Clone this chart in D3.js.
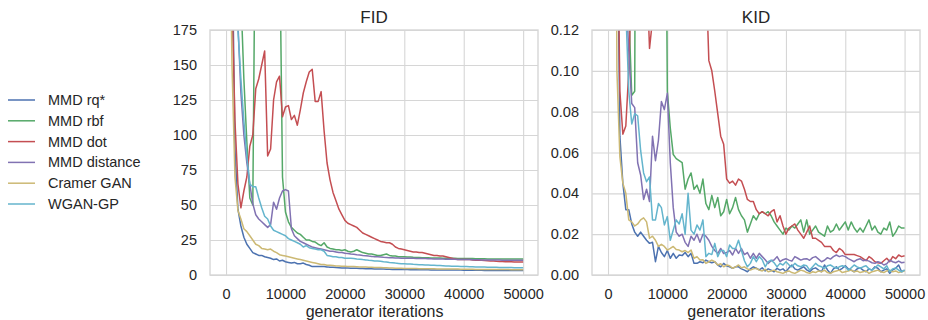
<!DOCTYPE html>
<html>
<head>
<meta charset="utf-8">
<script src="https://cdn.jsdelivr.net/npm/d3@7"></script>
<style>
  body { margin: 0; background: #fff; }
  text { font-family: "Liberation Sans", Arial, sans-serif; fill: #262626; }
</style>
</head>
<body>
<div id="chart"></div>
<script>
// series names + seaborn "deep" colours
const seriesNames = ["MMD rq*", "MMD rbf", "MMD dot", "MMD distance", "Cramer GAN", "WGAN-GP"];
const seriesColors = ["#4C72B0", "#55A868", "#C44E52", "#8172B2", "#CCB974", "#64B5CD"];

// evaluation points, every 500 generator iterations
const iterations = d3.range(500, 50001, 500);

const xTicks = [0, 10000, 20000, 30000, 40000, 50000];
const fidTicks = [0, 25, 50, 75, 100, 125, 150, 175];
const kidTicks = [0, 0.02, 0.04, 0.06, 0.08, 0.10, 0.12];

// FID values
const fidRq = [
  400, 250, 90, 47, 35, 27, 22, 19, 16, 15,
  14, 14, 13, 12.5, 12, 11, 11.5, 10, 10.5, 9.5,
  9, 8.5, 9, 8, 8, 8.5, 7.5, 7, 6, 6,
  6, 6, 6, 5.8, 5.5, 5.5, 5.3, 5.2, 5, 5,
  5, 4.9, 4.8, 4.8, 4.7, 4.6, 4.5, 4.5, 4.4, 4.3,
  4.3, 4.2, 4.2, 4.1, 4.1, 4, 4, 4, 3.9, 3.9,
  3.9, 3.8, 3.8, 3.8, 3.7, 3.7, 3.7, 3.7, 3.6, 3.6,
  3.6, 3.6, 3.6, 3.5, 3.5, 3.5, 3.5, 3.5, 3.5, 3.4,
  3.4, 3.4, 3.4, 3.4, 3.4, 3.4, 3.3, 3.3, 3.3, 3.3,
  3.3, 3.3, 3.3, 3.3, 3.2, 3.2, 3.2, 3.2, 3.2, 3.2
];
const fidRbf = [
  600, 500, 400, 300, 200, 140, 95, 55, 50, 300,
  400, 400, 400, 400, 400, 400, 400, 250, 70, 45,
  38, 34, 32, 30, 29, 27, 25, 25, 24, 23.5,
  22, 21, 23, 20, 19, 18.5, 18, 18, 17.5, 18,
  17, 16.5, 17, 18, 17, 16, 15.5, 15, 15, 14.5,
  14, 14, 14.5, 15, 14, 13.5, 13.5, 13, 13, 13,
  12.8, 12.8, 12.6, 12.5, 12.5, 12.4, 12.3, 12.3, 12.2, 12.2,
  12.1, 12.1, 12, 12, 12, 11.9, 11.9, 11.8, 11.8, 11.8,
  11.7, 11.7, 11.7, 11.6, 11.6, 11.6, 11.6, 11.5, 11.5, 11.5,
  11.5, 11.5, 11.5, 11.5, 11.4, 11.4, 11.4, 11.4, 11.4, 11.4
];
const fidDot = [
  400, 200, 110, 65, 48, 60, 70, 92, 100, 133,
  140, 150, 160, 85, 90, 125, 138, 142, 113, 120,
  121, 111, 114, 107, 118, 130, 138, 145, 147, 124,
  124, 131, 103, 80, 68, 59, 53, 47, 43, 39,
  37, 36, 35, 34, 32, 30, 29, 28, 27, 26,
  25, 24, 23.5, 23, 23, 22, 20, 19, 18.5, 18,
  17.5, 17, 16.5, 16.5, 16, 16, 15.5, 15, 14.5, 14,
  14, 13.5, 13.5, 13, 12.5, 12, 11.5, 11, 11, 11,
  11, 11, 10.8, 10.6, 10.5, 10.5, 10.3, 10.2, 10, 10,
  9.8, 9.7, 9.6, 9.5, 9.5, 9.4, 9.3, 9.3, 9.2, 9.2
];
const fidDistance = [
  600, 400, 250, 180, 130, 100, 80, 65, 51, 43,
  40, 38, 36, 34, 36, 52, 47, 55, 60, 61,
  60, 33, 28, 26, 24, 23, 22, 21, 20, 19.5,
  19, 18.5, 18, 17.5, 17, 17, 16.5, 16, 16, 15.5,
  15.3, 15, 14.8, 14.5, 14.3, 14, 13.8, 13.5, 13.3, 13,
  13, 12.8, 12.6, 12.5, 12.4, 12.3, 12.2, 12.1, 12, 12,
  12, 11.9, 11.9, 11.8, 11.8, 11.7, 11.7, 11.6, 11.6, 11.5,
  11.5, 11.4, 11.4, 11.3, 11.3, 11.2, 11.2, 11.1, 11.1, 11,
  11, 11, 10.9, 10.9, 10.9, 10.8, 10.8, 10.8, 10.7, 10.7,
  10.7, 10.7, 10.6, 10.6, 10.6, 10.6, 10.5, 10.5, 10.5, 10.5
];
const fidCramer = [
  300, 150, 70, 46, 40, 33, 31, 28, 25, 22,
  21, 19, 18.5, 18, 18.5, 17, 16, 14.5, 14, 13.5,
  13, 12.5, 12, 11.5, 11, 10.5, 10, 9.5, 9, 8.5,
  8, 7.5, 7.5, 7, 7, 6.8, 6.5, 6.5, 6.3, 6.2,
  6.1, 6, 6, 5.9, 5.8, 5.7, 5.7, 5.6, 5.5, 5.4,
  5.3, 5.3, 5.2, 5.1, 5, 5, 4.9, 4.9, 4.8, 4.7,
  4.7, 4.6, 4.6, 4.6, 4.5, 4.5, 4.5, 4.4, 4.4, 4.4,
  4.3, 4.3, 4.3, 4.3, 4.2, 4.2, 4.2, 4.2, 4.1, 4.1,
  4.1, 4.1, 4.1, 4, 4, 4, 4, 4, 4, 3.9,
  3.9, 3.9, 3.9, 3.9, 3.9, 3.8, 3.8, 3.8, 3.8, 3.8
];
const fidWgan = [
  600, 400, 250, 175, 140, 110, 85, 65, 63, 63,
  55, 48, 42, 40, 35, 32, 31, 30, 29, 28,
  26, 25, 24, 23, 22, 20, 21, 19.5, 19, 18.5,
  18, 18, 17, 14, 13.5, 13, 13, 12.5, 12.5, 12,
  12, 12, 11.8, 11.5, 11.3, 11, 10.8, 10.5, 10.3, 10,
  10, 9.8, 9.5, 9.3, 9, 8.8, 8.5, 8.3, 8.1, 8,
  7.9, 7.8, 7.6, 7.5, 7.4, 7.3, 7.2, 7.1, 7, 6.9,
  6.8, 6.7, 6.6, 6.5, 6.4, 6.3, 6.3, 6.2, 6.1, 6,
  6, 5.9, 5.9, 5.8, 5.8, 5.7, 5.7, 5.6, 5.6, 5.5,
  5.5, 5.4, 5.4, 5.3, 5.3, 5.3, 5.2, 5.2, 5.2, 5.2
];

// KID values
const kidRq = [
  0.8, 0.5, 0.2, 0.068, 0.045, 0.032, 0.032, 0.025, 0.021, 0.019,
  0.021, 0.019, 0.017, 0.0155, 0.016, 0.0065, 0.014, 0.011, 0.009, 0.012,
  0.0082, 0.0106, 0.0082, 0.0098, 0.0095, 0.011, 0.009, 0.0106, 0.0057, 0.0057,
  0.0065, 0.006, 0.0073, 0.0065, 0.006, 0.0065, 0.0049, 0.004, 0.0057, 0.0045,
  0.004, 0.0033, 0.004, 0.004, 0.003, 0.0024, 0.0016, 0.003, 0.004, 0.0033,
  0.0025, 0.0035, 0.002, 0.003, 0.0024, 0.0016, 0.0033, 0.0024, 0.003, 0.0016,
  0.0035, 0.0049, 0.003, 0.0024, 0.0033, 0.004, 0.0025, 0.0016, 0.003, 0.0035,
  0.0024, 0.0016, 0.0049, 0.0025, 0.0008, 0.003, 0.004, 0.0024, 0.0033, 0.0045,
  0.003, 0.0024, 0.0016, 0.003, 0.0035, 0.0024, 0.0016, 0.003, 0.0024, 0.004,
  0.0033, 0.0016, 0.0024, 0.003, 0.0008, 0.0025, 0.0033, 0.0049, 0.0016, 0.0024
];
const kidRbf = [
  0.8, 0.6, 0.5, 0.4, 0.3, 0.2, 0.13, 0.088, 0.09, 0.5,
  0.5, 0.5, 0.5, 0.5, 0.5, 0.5, 0.5, 0.5, 0.3, 0.09,
  0.072, 0.059, 0.057, 0.056, 0.055, 0.042, 0.047, 0.05, 0.042, 0.044,
  0.04, 0.047, 0.035, 0.032, 0.039, 0.033, 0.038, 0.029, 0.031, 0.037,
  0.03, 0.033, 0.038, 0.032, 0.029, 0.027, 0.021, 0.025, 0.029, 0.027,
  0.03, 0.031, 0.03, 0.031, 0.029, 0.026, 0.024, 0.022, 0.02, 0.023,
  0.022, 0.024, 0.023, 0.025, 0.027, 0.021, 0.027, 0.02, 0.022, 0.024,
  0.021, 0.02, 0.019, 0.024, 0.021, 0.022, 0.025, 0.022, 0.024, 0.026,
  0.022, 0.026, 0.023, 0.021, 0.023, 0.021, 0.024, 0.027, 0.022, 0.024,
  0.021, 0.02, 0.023, 0.022, 0.026, 0.019, 0.021, 0.024, 0.023, 0.023
];
const kidDot = [
  0.5, 0.35, 0.2, 0.09, 0.069, 0.073, 0.1, 0.15, 0.2, 0.25,
  0.3, 0.2, 0.15, 0.111, 0.125, 0.2, 0.25, 0.3, 0.3, 0.3,
  0.3, 0.3, 0.3, 0.3, 0.3, 0.3, 0.3, 0.3, 0.3, 0.3,
  0.25, 0.2, 0.15, 0.105, 0.1, 0.09, 0.079, 0.068, 0.064, 0.047,
  0.045, 0.046, 0.044, 0.047, 0.046, 0.042, 0.037, 0.036, 0.036, 0.032,
  0.03, 0.031, 0.03, 0.029, 0.031, 0.032, 0.026, 0.029, 0.024, 0.02,
  0.023, 0.024, 0.025, 0.022, 0.02, 0.018, 0.021, 0.024, 0.018, 0.018,
  0.017, 0.016, 0.014, 0.014, 0.014, 0.012, 0.011, 0.013, 0.012, 0.01,
  0.01, 0.01, 0.01, 0.0095, 0.009, 0.008, 0.007, 0.009, 0.008, 0.0065,
  0.006, 0.0057, 0.007, 0.0082, 0.0065, 0.009, 0.008, 0.0098, 0.009, 0.0094
];
const kidDistance = [
  0.8, 0.5, 0.35, 0.25, 0.18, 0.14, 0.11, 0.084, 0.082, 0.055,
  0.049, 0.037, 0.042, 0.036, 0.068, 0.056, 0.066, 0.085, 0.081, 0.089,
  0.055, 0.033, 0.021, 0.019, 0.02, 0.016, 0.014, 0.019, 0.017, 0.02,
  0.016, 0.02, 0.019, 0.017, 0.014, 0.012, 0.0105, 0.013, 0.0105, 0.011,
  0.012, 0.0098, 0.013, 0.0106, 0.0129, 0.01, 0.011, 0.0082, 0.0106, 0.0082,
  0.0106, 0.009, 0.0075, 0.0057, 0.007, 0.0073, 0.009, 0.0065, 0.0075, 0.008,
  0.0073, 0.0068, 0.009, 0.0082, 0.0073, 0.0078, 0.008, 0.0072, 0.0085, 0.009,
  0.0078, 0.0065, 0.0072, 0.0085, 0.0078, 0.009, 0.0098, 0.009, 0.0095, 0.009,
  0.008, 0.0073, 0.0065, 0.0075, 0.008, 0.007, 0.0073, 0.0068, 0.006, 0.0057,
  0.0065, 0.006, 0.0049, 0.0055, 0.0073, 0.0065, 0.006, 0.0068, 0.006, 0.0062
];
const kidCramer = [
  0.8, 0.4, 0.1, 0.058, 0.045, 0.04, 0.027, 0.026, 0.024, 0.025,
  0.027, 0.028, 0.026, 0.018, 0.019, 0.017, 0.014, 0.015, 0.014, 0.0122,
  0.013, 0.014, 0.0125, 0.0122, 0.0114, 0.012, 0.011, 0.0122, 0.0082, 0.009,
  0.0073, 0.0075, 0.0057, 0.0065, 0.0073, 0.0065, 0.0049, 0.0055, 0.004, 0.0049,
  0.0045, 0.0033, 0.004, 0.0049, 0.0035, 0.004, 0.003, 0.0024, 0.003, 0.0033,
  0.0024, 0.002, 0.0028, 0.0016, 0.002, 0.0024, 0.0016, 0.0012, 0.0008, 0.0016,
  0.002, 0.0012, 0.0008, 0.0016, 0.0024, 0.002, 0.0012, 0.0008, 0.0016, 0.0012,
  0.002, 0.0016, 0.0024, 0.0012, 0.0008, 0.0016, 0.002, 0.0024, 0.0012, 0.0016,
  0.002, 0.0024, 0.0016, 0.002, 0.0012, 0.0016, 0.002, 0.0008, 0.0016, 0.002,
  0.0024, 0.0016, 0.0012, 0.002, 0.0024, 0.0016, 0.002, 0.0012, 0.0016, 0.002
];
const kidWgan = [
  0.8, 0.5, 0.35, 0.25, 0.18, 0.13, 0.09, 0.074, 0.079, 0.078,
  0.061, 0.05, 0.0457, 0.048, 0.027, 0.027, 0.035, 0.033, 0.0245, 0.0286,
  0.017, 0.022, 0.027, 0.025, 0.03, 0.02, 0.04, 0.022, 0.02, 0.0245,
  0.022, 0.027, 0.009, 0.0106, 0.01, 0.0155, 0.009, 0.012, 0.012, 0.009,
  0.0147, 0.013, 0.013, 0.017, 0.012, 0.007, 0.004, 0.0057, 0.009, 0.0065,
  0.009, 0.0075, 0.004, 0.0065, 0.0073, 0.006, 0.004, 0.0057, 0.0049, 0.0065,
  0.005, 0.004, 0.0057, 0.0045, 0.004, 0.0049, 0.0045, 0.0024, 0.004, 0.0057,
  0.0045, 0.004, 0.0033, 0.0045, 0.0049, 0.004, 0.0033, 0.004, 0.0045, 0.004,
  0.0024, 0.0035, 0.0049, 0.004, 0.0033, 0.004, 0.0045, 0.003, 0.0024, 0.0035,
  0.0049, 0.004, 0.003, 0.0045, 0.0016, 0.003, 0.0035, 0.0024, 0.0016, 0.0024
];

const fidSeries = [fidRq, fidRbf, fidDot, fidDistance, fidCramer, fidWgan];
const kidSeries = [kidRq, kidRbf, kidDot, kidDistance, kidCramer, kidWgan];

const W = 928, H = 320;
const svg = d3.select("#chart").append("svg")
  .attr("width", W)
  .attr("height", H);

svg.append("rect").attr("width", W).attr("height", H).attr("fill", "#fff");

function drawPanel(p) {
  const w = p.right - p.left, h = p.bottom - p.top;
  const g = svg.append("g").attr("transform", "translate(" + p.left + "," + p.top + ")");

  const x = d3.scaleLinear().domain(p.xDomain).range([0, w]);
  const y = d3.scaleLinear().domain(p.yDomain).range([h, 0]);

  // grid through the axes
  const xAxis = d3.axisBottom(x).tickValues(xTicks).tickFormat(d3.format("d"))
    .tickSizeInner(-h).tickSizeOuter(0).tickPadding(14);
  const yAxis = d3.axisLeft(y).tickValues(p.yTicks).tickFormat(p.yFormat)
    .tickSizeInner(-w).tickSizeOuter(0).tickPadding(13);

  const gx = g.append("g").attr("transform", "translate(0," + h + ")").call(xAxis);
  const gy = g.append("g").call(yAxis);
  [gx, gy].forEach(a => {
    a.select(".domain").remove();
    a.selectAll("line").attr("stroke", "#d6d6d6").attr("stroke-width", 1.1);
    a.selectAll("text").attr("fill", "#262626").style("font-size", "14.5px");
  });

  const clipId = "clip-" + p.title;
  g.append("clipPath").attr("id", clipId)
    .append("rect").attr("width", w).attr("height", h);

  const line = d3.line()
    .x((d, i) => x(iterations[i]))
    .y(d => y(d));

  g.append("g").attr("clip-path", "url(#" + clipId + ")")
    .selectAll("path")
    .data(p.series)
    .join("path")
      .attr("d", d => line(d))
      .attr("fill", "none")
      .attr("stroke", (d, i) => seriesColors[i])
      .attr("stroke-width", 1.5)
      .attr("stroke-linejoin", "round");

  // frame
  g.append("rect")
    .attr("width", w).attr("height", h)
    .attr("fill", "none")
    .attr("stroke", "#d6d6d6")
    .attr("stroke-width", 1.4);

  g.append("text")
    .attr("x", w / 2).attr("y", -7)
    .attr("text-anchor", "middle")
    .style("font-size", "17px")
    .text(p.title);

  g.append("text")
    .attr("x", x(25000)).attr("y", h + 42)
    .attr("text-anchor", "middle")
    .style("font-size", "16px")
    .text("generator iterations");
}

drawPanel({
  title: "FID", left: 210, right: 538, top: 30, bottom: 275,
  xDomain: [-2700, 52500], yDomain: [0, 175],
  yTicks: fidTicks, yFormat: d3.format("d"), series: fidSeries
});

drawPanel({
  title: "KID", left: 592, right: 920, top: 30, bottom: 275,
  xDomain: [-2700, 52600], yDomain: [0, 0.12],
  yTicks: kidTicks, yFormat: d3.format(".2f"), series: kidSeries
});

// legend on the left
const legend = svg.append("g").attr("transform", "translate(8,100)");
const rows = legend.selectAll("g")
  .data(seriesNames)
  .join("g")
    .attr("transform", (d, i) => "translate(0," + (i * 20.8) + ")");
rows.append("line")
  .attr("x1", 0).attr("x2", 27)
  .attr("stroke", (d, i) => seriesColors[i])
  .attr("stroke-width", 1.5);
rows.append("text")
  .attr("x", 40).attr("y", 5)
  .style("font-size", "14.5px")
  .text(d => d);
</script>
</body>
</html>
